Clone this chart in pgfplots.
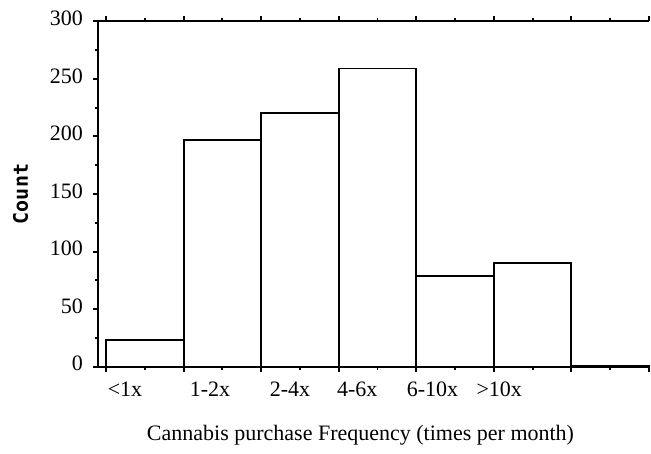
\documentclass[border=0pt]{standalone}
\usepackage{fontspec}
\setmainfont{Liberation Serif}
\newfontfamily\countfont{DejaVu Sans Mono}
\usepackage{pgfplots}
\pgfplotsset{compat=1.18}
\begin{document}
\begin{tikzpicture}
\path[use as bounding box] (0,0) rectangle (651pt,453pt);
\begin{axis}[
 at={(98pt,86.3pt)}, anchor=south west,
 scale only axis, width=551pt, height=345.4pt,
 xmin=-0.103, xmax=7, ymin=0, ymax=300,
 axis x line=box, axis y line=left,
 axis line style={-, line width=1.9pt},
 xtick={0,1,...,7}, minor xtick={0.5,1.5,...,6.5}, xticklabels={},
 ytick={0,50,...,300}, minor ytick={25,75,...,275},
 tick align=outside, major tick length=5pt, minor tick length=3pt,
 every tick/.append style={black, line width=1.9pt},
 xtick pos=both, ytick pos=left,
 tick label style={font=\fontsize{22}{26}\selectfont},
 /pgf/number format/assume math mode=true,
 yticklabel style={inner sep=0pt, xshift=-10pt, yshift=3pt},
 clip=false,
]
\addplot[ybar, bar width=1, bar shift=0pt, fill=white, draw=black, line width=1.9pt]
 coordinates {(0.5,23) (1.5,197) (2.5,220) (3.5,259) (4.5,79) (5.5,90) (6.5,1)};
\begin{scope}[every node/.style={anchor=base, inner sep=0pt, font=\fontsize{22}{26}\selectfont}]
\node at ([yshift=-30pt]axis cs:0.245,0) {<1x};
\node at ([yshift=-30pt]axis cs:1.34,0) {1-2x};
\node at ([yshift=-30pt]axis cs:2.372,0) {2-4x};
\node at ([yshift=-30pt]axis cs:3.24,0) {4-6x};
\node at ([yshift=-30pt]axis cs:4.21,0) {6-10x};
\node at ([yshift=-30pt]axis cs:5.07,0) {>10x};
\end{scope}
\end{axis}
\node[anchor=base, inner sep=0pt, font=\fontsize{22}{26}\selectfont] at (360.5pt,13pt) {Cannabis purchase Frequency (times per month)};
\node[rotate=90, inner sep=0pt, font=\countfont\bfseries\fontsize{20}{22}\selectfont] at (20.5pt,259pt) {Count};
\end{tikzpicture}
\end{document}
